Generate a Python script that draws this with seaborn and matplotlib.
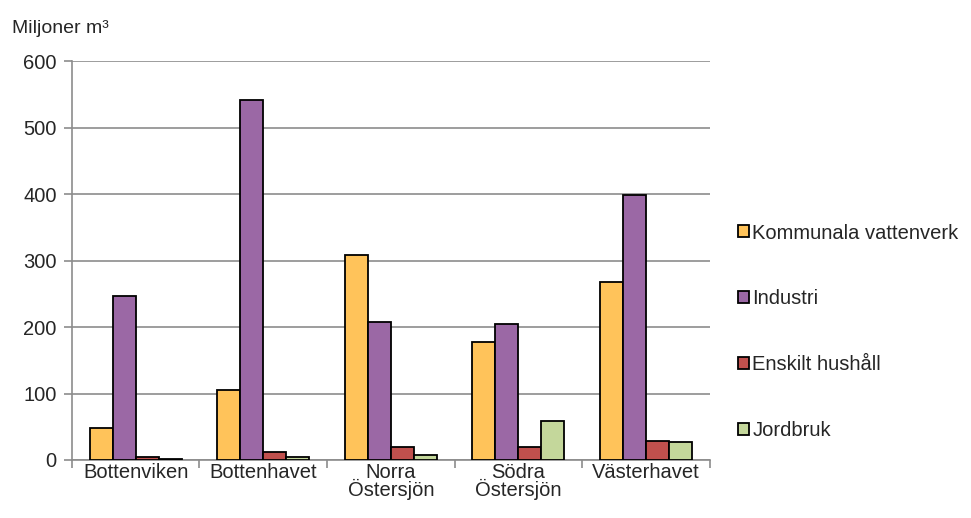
import pandas as pd
import matplotlib
matplotlib.use("Agg")
import matplotlib.pyplot as plt
import seaborn as sns

# data
omraden = ["Bottenviken", "Bottenhavet", "Norra\nÖstersjön", "Södra\nÖstersjön", "Västerhavet"]
kategorier = ["Kommunala vattenverk", "Industri", "Enskilt hushåll", "Jordbruk"]
kommunala = [48, 106, 308, 177, 267]
industri = [247, 542, 207, 204, 399]
hushall = [4, 12, 20, 20, 29]
jordbruk = [2, 4, 7, 59, 27]
farger = ["#FFC35A", "#9B68A5", "#C0504D", "#C4D79B"]

df = pd.DataFrame({
    "Område": omraden * 4,
    "Kategori": [k for k in kategorier for _ in omraden],
    "Värde": kommunala + industri + hushall + jordbruk,
})

sns.set_style("white")
plt.rcParams["font.family"] = ["Liberation Sans", "DejaVu Sans"]
fs = 14.5

fig = plt.figure(figsize=(9.71, 5.18), dpi=100)
ax = fig.add_axes([0.074, 0.112, 0.657, 0.770])

sns.barplot(data=df, x="Område", y="Värde", hue="Kategori", order=omraden,
            hue_order=kategorier, palette=farger, width=0.72,
            edgecolor="black", linewidth=1.3, saturation=1, ax=ax, zorder=3)

ax.set_ylim(0, 600)
ax.set_xlim(-0.5, 4.5)
ax.set_yticks(range(0, 601, 100))
ax.yaxis.grid(True, color="#8C8C8C", linewidth=1.2, zorder=0)
ax.set_xlabel("")
ax.set_ylabel("")
for s in ["top", "right"]:
    ax.spines[s].set_visible(False)
for s in ["left", "bottom"]:
    ax.spines[s].set_color("#8C8C8C")
    ax.spines[s].set_linewidth(1.2)

# x ticks between categories, labels centred
ax.set_xticks([i - 0.5 for i in range(6)], minor=False)
ax.set_xticklabels([])
ax.set_xticks(range(5), minor=True)
ax.set_xticklabels(omraden, minor=True, fontsize=fs, linespacing=0.85)
ax.tick_params(axis="x", which="major", length=6, color="#8C8C8C", width=1.2, direction="out", bottom=True)
ax.tick_params(axis="x", which="minor", length=0, pad=2)
ax.tick_params(axis="y", length=6, color="#8C8C8C", width=1.2, direction="out", left=True, labelsize=fs, pad=5)

ax.legend_.remove()
handles, labels = ax.get_legend_handles_labels()
fig.legend(handles, labels, loc="upper left", bbox_to_anchor=(0.752, 0.584),
           frameon=False, fontsize=fs, labelspacing=2.32, handlelength=0.55,
           handleheight=0.55, handletextpad=0.15, borderaxespad=0)

fig.text(0.012, 0.945, "Miljoner m³", fontsize=14, va="center", ha="left")

fig.savefig("out.png", dpi=100)
